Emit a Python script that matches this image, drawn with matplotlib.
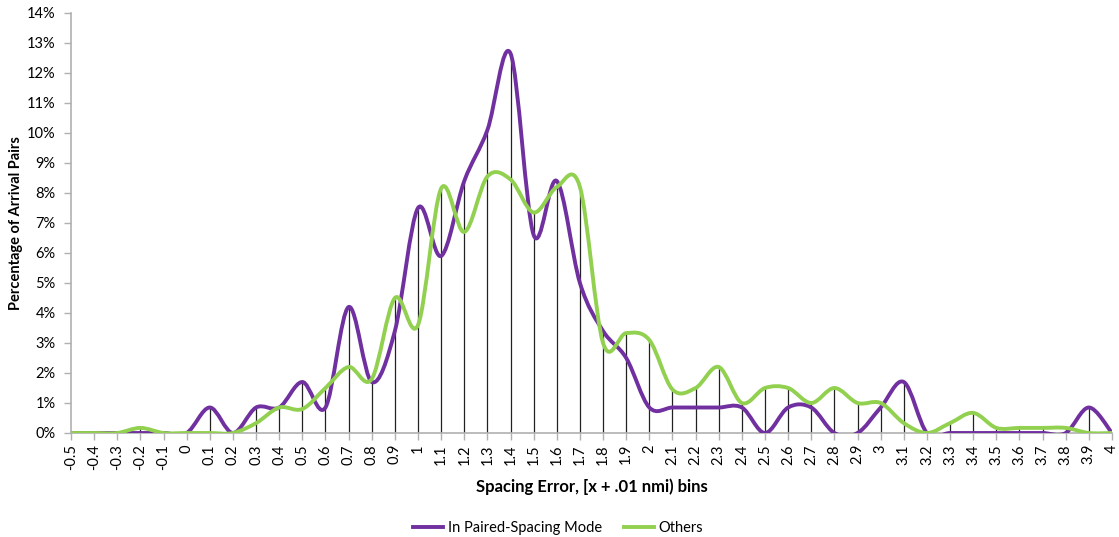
import numpy as np
import matplotlib
matplotlib.use("Agg")
import matplotlib.pyplot as plt
from matplotlib.path import Path
from matplotlib.patches import PathPatch
from matplotlib.lines import Line2D

plt.rcParams['font.family'] = ['Lato', 'DejaVu Sans']

categories = ["-0.5", "-0.4", "-0.3", "-0.2", "-0.1", "0", "0.1", "0.2", "0.3", "0.4",
              "0.5", "0.6", "0.7", "0.8", "0.9", "1", "1.1", "1.2", "1.3", "1.4",
              "1.5", "1.6", "1.7", "1.8", "1.9", "2", "2.1", "2.2", "2.3", "2.4",
              "2.5", "2.6", "2.7", "2.8", "2.9", "3", "3.1", "3.2", "3.3", "3.4",
              "3.5", "3.6", "3.7", "3.8", "3.9", "4"]

paired = [0, 0, 0, 0, 0, 0, 0.85, 0, 0.85, 0.85,
          1.7, 0.85, 4.2, 1.7, 3.4, 7.5, 5.9, 8.4, 10.1, 12.65,
          6.6, 8.4, 5.0, 3.4, 2.5, 0.85, 0.85, 0.85, 0.85, 0.85,
          0, 0.85, 0.85, 0, 0, 0.85, 1.7, 0, 0, 0,
          0, 0, 0, 0, 0.85, 0]

others = [0, 0, 0, 0.17, 0, 0, 0, 0, 0.33, 0.85,
          0.8, 1.5, 2.2, 1.8, 4.5, 3.6, 8.15, 6.7, 8.55, 8.45,
          7.35, 8.2, 8.2, 3.0, 3.33, 3.1, 1.45, 1.5, 2.2, 1.0,
          1.5, 1.5, 1.0, 1.5, 1.0, 1.0, 0.33, 0, 0.33, 0.67,
          0.17, 0.17, 0.17, 0.17, 0, 0]

series_names = ["In Paired-Spacing Mode", "Others"]
series_colors = ["#7030A0", "#92D050"]
yticks = list(range(0, 15))


def smooth_path(xs, ys):
    pts = np.column_stack([xs, ys]).astype(float)
    n = len(pts)
    verts = [pts[0]]
    codes = [Path.MOVETO]
    for i in range(n - 1):
        p0 = pts[i - 1] if i > 0 else pts[i]
        p1 = pts[i]
        p2 = pts[i + 1]
        p3 = pts[i + 2] if i + 2 < n else pts[i + 1]
        c1 = p1 + (p2 - p0) / 6.0
        c2 = p2 - (p3 - p1) / 6.0
        verts += [c1, c2, p2]
        codes += [Path.CURVE4] * 3
    return Path(verts, codes)


fig = plt.figure(figsize=(11.19, 5.37), dpi=100)
ax = fig.add_axes([71 / 1119, 1 - 433 / 537, (1112 - 71) / 1119, (433 - 13) / 537])

x = np.arange(len(categories))
tops = np.maximum(np.array(paired), np.array(others))
ax.vlines(x, 0, tops, color="#222222", lw=0.9, zorder=1)

for vals, col in zip([paired, others], series_colors):
    patch = PathPatch(smooth_path(x, vals), fill=False, edgecolor=col, lw=2.8,
                      transform=ax.transData, zorder=3, capstyle='round', joinstyle='round')
    ax.add_patch(patch)

ax.set_xlim(0, len(categories) - 1)
ax.set_ylim(0, 14)
ax.set_yticks(yticks)
ax.set_yticklabels([f"{t}%" for t in yticks], fontsize=10.5)
ax.set_xticks(x)
ax.set_xticklabels(categories, rotation=90, fontsize=10.5)

for s in ["top", "right"]:
    ax.spines[s].set_visible(False)
for s in ["left", "bottom"]:
    ax.spines[s].set_color("#b0b0b0")
    ax.spines[s].set_linewidth(1.2)
ax.tick_params(axis="both", color="#b0b0b0", length=5, width=1.0, labelcolor="#000000")
ax.tick_params(axis="y", pad=6)
ax.tick_params(axis="x", pad=3)

ax.set_xlabel("Spacing Error, [x + .01 nmi) bins", fontsize=12, fontweight="bold", labelpad=6)
ax.set_ylabel("Percentage of Arrival Pairs", fontsize=10.5, fontweight="bold", labelpad=3)

handles = [Line2D([0], [0], color=c, lw=2.8) for c in series_colors]
fig.legend(handles, series_names, loc="center", bbox_to_anchor=(558 / 1119, 1 - 528 / 537),
           ncol=2, frameon=False, fontsize=10.5, handlelength=2.1, handletextpad=0.3,
           columnspacing=1.5)

fig.savefig("out.png", dpi=100)
